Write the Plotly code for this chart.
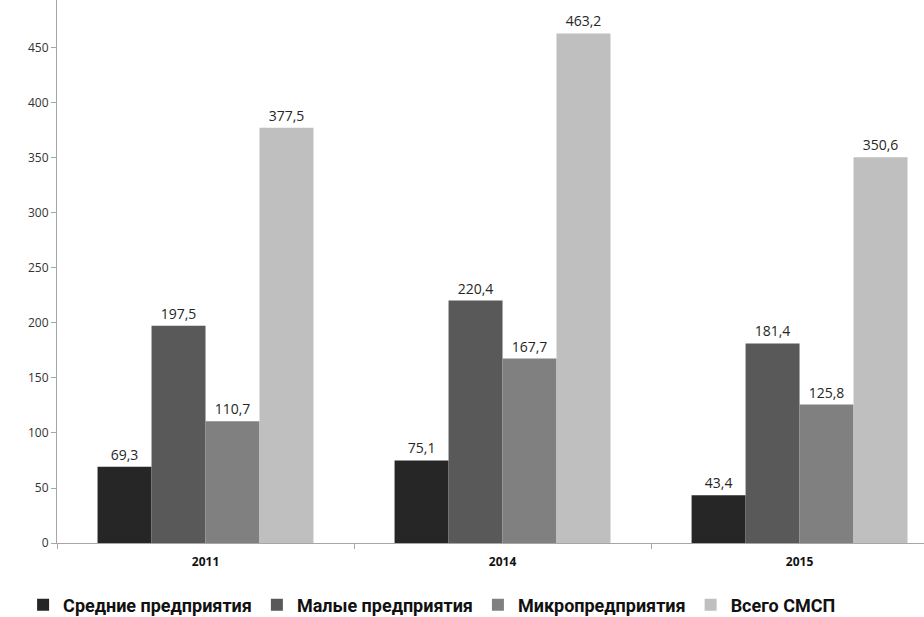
import plotly.graph_objects as go

years = ["2011", "2014", "2015"]
series_names = ["Средние предприятия", "Малые предприятия", "Микропредприятия", "Всего СМСП"]
medium = [69.3, 75.1, 43.4]
small = [197.5, 220.4, 181.4]
micro = [110.7, 167.7, 125.8]
total = [377.5, 463.2, 350.6]
y_ticks = [0, 50, 100, 150, 200, 250, 300, 350, 400, 450]

colors = ["#262626", "#595959", "#808080", "#bfbfbf"]
series_values = [medium, small, micro, total]

fig = go.Figure()
for name, vals, col in zip(series_names, series_values, colors):
    fig.add_trace(go.Bar(
        x=years, y=vals, name=name,
        marker=dict(color=col, line=dict(width=0)),
        text=[f"{v:.1f}".replace(".", ",") for v in vals],
        textposition="outside",
        textfont=dict(family="Open Sans", size=14, color="#262626"),
        cliponaxis=False,
    ))

fig.update_layout(
    width=924, height=617,
    margin=dict(l=57, r=0, t=0, b=74, autoexpand=False),
    paper_bgcolor="white", plot_bgcolor="white",
    barmode="group", bargap=0.273, bargroupgap=0,
    uniformtext=dict(mode=False),
    showlegend=True,
    legend=dict(
        orientation="h", xref="container", yref="container",
        x=0.025, xanchor="left", y=0.0194, yanchor="middle",
        font=dict(family="Roboto", size=18, color="#111111", weight="bold"),
        itemwidth=30, traceorder="normal", borderwidth=0,
    ),
    xaxis=dict(
        range=[-0.5, 2.419], showline=True, linecolor="#a6a6a6", linewidth=1,
        ticks="outside", tickson="boundaries", ticklen=5, tickcolor="#a6a6a6",
        tickfont=dict(family="Open Sans", size=12, color="#111111", weight="bold"),
        ticklabelstandoff=8,
        showgrid=False, zeroline=False,
    ),
    yaxis=dict(
        range=[0, 493.6], tickvals=y_ticks, showline=True, linecolor="#a6a6a6", linewidth=1,
        ticks="outside", ticklen=5, tickcolor="#a6a6a6",
        tickfont=dict(family="Open Sans", size=12, color="#333333"),
        showgrid=False, zeroline=False,
    ),
)

fig.write_html(
    "out.html",
    config={"displayModeBar": False},
    post_script="document.body.style.margin='0';document.body.style.overflow='hidden';",
)
